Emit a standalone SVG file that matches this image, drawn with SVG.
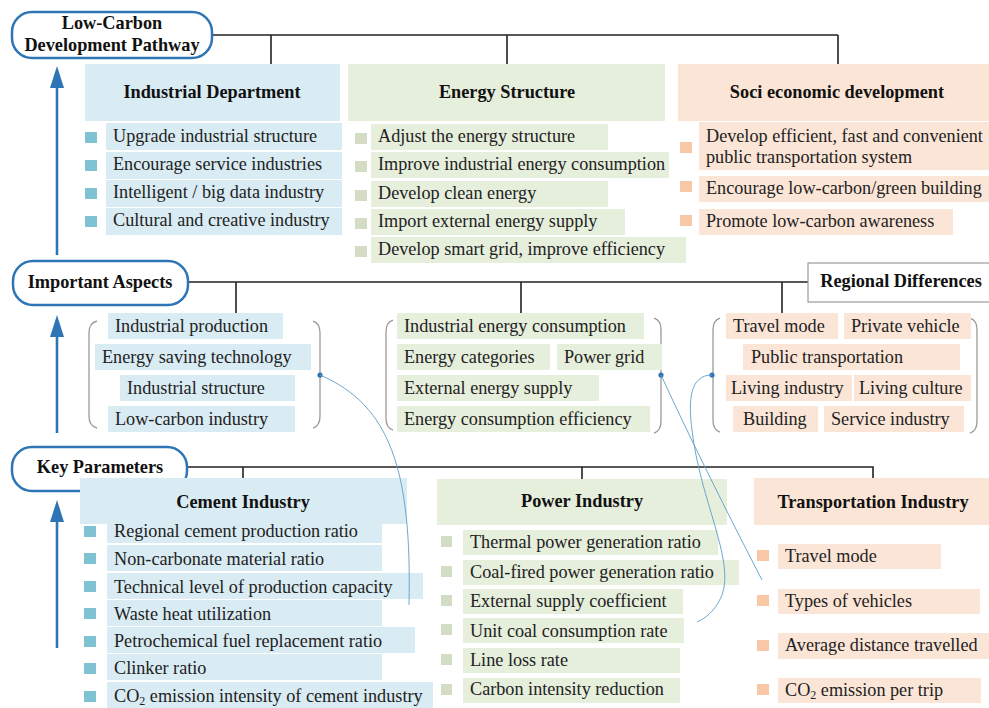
<svg xmlns="http://www.w3.org/2000/svg" width="989" height="708" viewBox="0 0 989 708">
<style>
.bg{fill:#ffffff}
.pill{fill:#ffffff;stroke:#2e75b6;stroke-width:2.5}
.bt{font-family:"Liberation Serif","Times New Roman",serif;font-weight:bold;font-size:18.3px;fill:#111}
.t{font-family:"Liberation Serif","Times New Roman",serif;font-size:18.2px;fill:#222}
.blue{fill:#d9ebf3}
.green{fill:#e6eedc}
.peach{fill:#fbe5d6}
.bb{fill:#7fc3d3}
.bg2{fill:#d3ddc3}
.bp{fill:#f7c7a6}
.ln{stroke:#222;stroke-width:1.6;fill:none}
.br{stroke:#9a9a9a;stroke-width:1.3;fill:none}
.cv{stroke:#5b9ec9;stroke-width:0.9;fill:none}
.dot{fill:#2e75b6}
.arr{stroke:#2e75b6;stroke-width:2.6}
</style>
<rect class="bg" x="0" y="0" width="989" height="708"/>

<g id="connectors">
<path class="ln" d="M212,35 H838 M271,35 V64 M507,35 V64 M838,35 V64"/>
<path class="ln" d="M188,282 H808 M236,282 V313 M521,282 V313 M782,282 V313"/>
<path class="ln" d="M187,467 H873 V479 M243,467 V479 M582,467 V479"/>
<line class="arr" x1="57" y1="255" x2="57" y2="84"/>
<polygon class="dot" points="57,66 50,88 64,88"/>
<line class="arr" x1="57" y1="433" x2="57" y2="333"/>
<polygon class="dot" points="57,315 50,337 64,337"/>
<line class="arr" x1="57" y1="648" x2="57" y2="518"/>
<polygon class="dot" points="57,500 50,522 64,522"/>
</g>

<g id="pathway">
<rect class="pill" x="12" y="12" width="200" height="46" rx="20"/>
<text class="bt" x="112" y="29" text-anchor="middle">Low-Carbon</text>
<text class="bt" x="112" y="51" text-anchor="middle">Development Pathway</text>
</g>

<g id="industrial-department">
<rect class="blue" x="85" y="64" width="255" height="57"/>
<text class="bt" x="212" y="98" text-anchor="middle">Industrial Department</text>
<rect class="blue" x="106" y="123" width="236" height="27"/>
<rect class="blue" x="106" y="152" width="236" height="27"/>
<rect class="blue" x="106" y="180" width="236" height="27"/>
<rect class="blue" x="106" y="208" width="236" height="27"/>
<rect class="bb" x="85" y="132" width="12" height="11"/>
<rect class="bb" x="85" y="160" width="12" height="11"/>
<rect class="bb" x="85" y="188" width="12" height="11"/>
<rect class="bb" x="85" y="216" width="12" height="11"/>
<text class="t" x="113" y="142">Upgrade industrial structure</text>
<text class="t" x="113" y="170">Encourage service industries</text>
<text class="t" x="113" y="198">Intelligent / big data industry</text>
<text class="t" x="113" y="226">Cultural and creative industry</text>
</g>

<g id="energy-structure">
<rect class="green" x="348" y="64" width="317" height="57"/>
<text class="bt" x="507" y="98" text-anchor="middle">Energy Structure</text>
<rect class="green" x="371" y="124" width="237" height="26"/>
<rect class="green" x="371" y="152" width="298" height="26"/>
<rect class="green" x="371" y="181" width="237" height="26"/>
<rect class="green" x="371" y="209" width="254" height="26"/>
<rect class="green" x="371" y="237" width="315" height="26"/>
<rect class="bg2" x="355" y="133" width="12" height="11"/>
<rect class="bg2" x="355" y="161" width="12" height="11"/>
<rect class="bg2" x="355" y="190" width="12" height="11"/>
<rect class="bg2" x="355" y="218" width="12" height="11"/>
<rect class="bg2" x="355" y="246" width="12" height="11"/>
<text class="t" x="378" y="142">Adjust the energy structure</text>
<text class="t" x="378" y="170">Improve industrial energy consumption</text>
<text class="t" x="378" y="199">Develop clean energy</text>
<text class="t" x="378" y="227">Import external energy supply</text>
<text class="t" x="378" y="255">Develop smart grid, improve efficiency</text>
</g>

<g id="socio-economic">
<rect class="peach" x="678" y="64" width="311" height="57"/>
<text class="bt" x="837" y="98" text-anchor="middle">Soci economic development</text>
<rect class="peach" x="699" y="122" width="290" height="48"/>
<rect class="peach" x="699" y="176" width="290" height="26"/>
<rect class="peach" x="699" y="209" width="254" height="26"/>
<rect class="bp" x="680" y="142" width="12" height="11"/>
<rect class="bp" x="680" y="181" width="12" height="11"/>
<rect class="bp" x="680" y="215" width="12" height="11"/>
<text class="t" x="706" y="142">Develop efficient, fast and convenient</text>
<text class="t" x="706" y="163">public transportation system</text>
<text class="t" x="706" y="194">Encourage low-carbon/green building</text>
<text class="t" x="706" y="227">Promote low-carbon awareness</text>
</g>

<g id="important-aspects">
<rect class="pill" x="13" y="261" width="175" height="44" rx="20"/>
<text class="bt" x="100" y="288" text-anchor="middle">Important Aspects</text>
</g>

<g id="regional-differences">
<rect x="808" y="263" width="185" height="39" fill="#ffffff" stroke="#9a9a9a" stroke-width="1.2"/>
<text class="bt" x="901" y="287" text-anchor="middle">Regional Differences</text>
</g>

<g id="aspects-industry">
<path class="br" d="M97,321 Q89,323 89,333 L89,416 Q89,426 97,428"/>
<path class="br" d="M313,321 Q320,323 320,333 L320,416 Q320,426 313,428"/>
<rect class="blue" x="108" y="313" width="175" height="26"/>
<rect class="blue" x="95" y="344" width="216" height="26"/>
<rect class="blue" x="120" y="375" width="175" height="26"/>
<rect class="blue" x="108" y="406" width="187" height="26"/>
<text class="t" x="115" y="332">Industrial production</text>
<text class="t" x="102" y="363">Energy saving technology</text>
<text class="t" x="127" y="394">Industrial structure</text>
<text class="t" x="115" y="425">Low-carbon industry</text>
<circle class="dot" cx="320" cy="375" r="2.6"/>
</g>

<g id="aspects-energy">
<path class="br" d="M393,320 Q386,322 386,332 L386,418 Q386,428 393,430"/>
<path class="br" d="M654,318 Q661,320 661,330 L661,421 Q661,431 654,433"/>
<rect class="green" x="397" y="313" width="247" height="26"/>
<rect class="green" x="397" y="344" width="153" height="26"/>
<rect class="green" x="557" y="344" width="105" height="26"/>
<rect class="green" x="397" y="375" width="202" height="26"/>
<rect class="green" x="397" y="406" width="253" height="26"/>
<text class="t" x="404" y="332">Industrial energy consumption</text>
<text class="t" x="404" y="363">Energy categories</text>
<text class="t" x="564" y="363">Power grid</text>
<text class="t" x="404" y="394">External energy supply</text>
<text class="t" x="404" y="425">Energy consumption efficiency</text>
<circle class="dot" cx="661" cy="375" r="2.6"/>
</g>

<g id="aspects-regional">
<path class="br" d="M720,318 Q713,320 713,330 L713,420 Q713,430 720,432"/>
<path class="br" d="M970,318 Q977,320 977,330 L977,421 Q977,431 970,433"/>
<rect class="peach" x="726" y="313" width="112" height="26"/>
<rect class="peach" x="844" y="313" width="127" height="26"/>
<rect class="peach" x="743" y="344" width="217" height="26"/>
<rect class="peach" x="726" y="375" width="126" height="26"/>
<rect class="peach" x="854" y="375" width="117" height="26"/>
<rect class="peach" x="733" y="406" width="85" height="26"/>
<rect class="peach" x="824" y="406" width="140" height="26"/>
<text class="t" x="733" y="332">Travel mode</text>
<text class="t" x="851" y="332">Private vehicle</text>
<text class="t" x="751" y="363">Public transportation</text>
<text class="t" x="731" y="394">Living industry</text>
<text class="t" x="859" y="394">Living culture</text>
<text class="t" x="743" y="425">Building</text>
<text class="t" x="831" y="425">Service industry</text>
<circle class="dot" cx="712" cy="375" r="2.6"/>
</g>

<g id="key-parameters">
<rect class="pill" x="12" y="447" width="175" height="44" rx="20"/>
<text class="bt" x="100" y="473" text-anchor="middle">Key Parameters</text>
</g>

<g id="cement-industry">
<rect class="blue" x="80" y="478" width="327" height="46"/>
<text class="bt" x="243" y="508" text-anchor="middle">Cement Industry</text>
<rect class="blue" x="107" y="517" width="275" height="26"/>
<rect class="blue" x="107" y="545" width="275" height="26"/>
<rect class="blue" x="107" y="573" width="316" height="26"/>
<rect class="blue" x="107" y="600" width="275" height="26"/>
<rect class="blue" x="107" y="627" width="308" height="26"/>
<rect class="blue" x="107" y="654" width="275" height="26"/>
<rect class="blue" x="107" y="682" width="326" height="26"/>
<rect class="bb" x="84" y="526" width="12" height="11"/>
<rect class="bb" x="84" y="553" width="12" height="11"/>
<rect class="bb" x="84" y="581" width="12" height="11"/>
<rect class="bb" x="84" y="608" width="12" height="11"/>
<rect class="bb" x="84" y="636" width="12" height="11"/>
<rect class="bb" x="84" y="663" width="12" height="11"/>
<rect class="bb" x="84" y="691" width="12" height="11"/>
<text class="t" x="114" y="537">Regional cement production ratio</text>
<text class="t" x="114" y="565">Non-carbonate material ratio</text>
<text class="t" x="114" y="593">Technical level of production capacity</text>
<text class="t" x="114" y="620">Waste heat utilization</text>
<text class="t" x="114" y="647">Petrochemical fuel replacement ratio</text>
<text class="t" x="114" y="674">Clinker ratio</text>
<text class="t" x="114" y="702">CO<tspan font-size="12" dy="3">2</tspan><tspan dy="-3"> emission intensity of cement industry</tspan></text>
</g>

<g id="power-industry">
<rect class="green" x="437" y="479" width="290" height="46"/>
<text class="bt" x="582" y="507" text-anchor="middle">Power Industry</text>
<rect class="green" x="463" y="530" width="255" height="25"/>
<rect class="green" x="463" y="560" width="276" height="25"/>
<rect class="green" x="463" y="589" width="220" height="25"/>
<rect class="green" x="463" y="618" width="221" height="25"/>
<rect class="green" x="463" y="648" width="217" height="25"/>
<rect class="green" x="463" y="678" width="217" height="25"/>
<rect class="bg2" x="441" y="536" width="11" height="11"/>
<rect class="bg2" x="441" y="566" width="11" height="11"/>
<rect class="bg2" x="441" y="595" width="11" height="11"/>
<rect class="bg2" x="441" y="624" width="11" height="11"/>
<rect class="bg2" x="441" y="654" width="11" height="11"/>
<rect class="bg2" x="441" y="684" width="11" height="11"/>
<text class="t" x="470" y="548">Thermal power generation ratio</text>
<text class="t" x="470" y="578">Coal-fired power generation ratio</text>
<text class="t" x="470" y="607">External supply coefficient</text>
<text class="t" x="470" y="637">Unit coal consumption rate</text>
<text class="t" x="470" y="666">Line loss rate</text>
<text class="t" x="470" y="695">Carbon intensity reduction</text>
</g>

<g id="transportation-industry">
<rect class="peach" x="754" y="478" width="235" height="47"/>
<text class="bt" x="873" y="508" text-anchor="middle">Transportation Industry</text>
<rect class="peach" x="778" y="544" width="163" height="25"/>
<rect class="peach" x="778" y="589" width="202" height="25"/>
<rect class="peach" x="778" y="633" width="211" height="26"/>
<rect class="peach" x="778" y="678" width="203" height="25"/>
<rect class="bp" x="757" y="550" width="12" height="11"/>
<rect class="bp" x="757" y="595" width="12" height="11"/>
<rect class="bp" x="757" y="640" width="12" height="11"/>
<rect class="bp" x="757" y="684" width="12" height="11"/>
<text class="t" x="785" y="562">Travel mode</text>
<text class="t" x="785" y="607">Types of vehicles</text>
<text class="t" x="785" y="651">Average distance travelled</text>
<text class="t" x="785" y="696">CO<tspan font-size="12" dy="3">2</tspan><tspan dy="-3"> emission per trip</tspan></text>
</g>

<g id="links">
<path class="cv" d="M320,375 C390,405 412,470 409,605"/>
<path class="cv" d="M661,375 Q700,460 762,580"/>
<path class="cv" d="M712,375 C690,375 688,400 692,430 C700,500 735,560 722,595 C715,612 705,618 697,622"/>
</g>
</svg>
